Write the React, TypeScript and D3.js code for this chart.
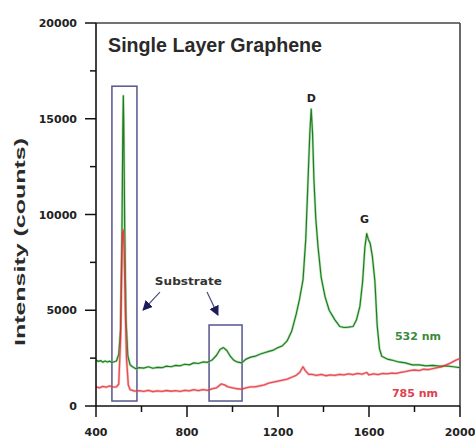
import React from "react";
import * as d3 from "d3";

// ---- Data ----
const greenX = [400,410,420,430,440,450,460,470,480,490,500,508,514,518,520,522,526,532,540,550,560,575,590,610,630,650,670,690,710,730,750,770,790,810,830,850,870,890,910,930,945,960,975,990,1005,1020,1040,1060,1080,1100,1120,1140,1160,1180,1200,1220,1240,1260,1280,1295,1310,1322,1332,1340,1346,1352,1358,1366,1376,1390,1407,1425,1450,1472,1490,1510,1530,1545,1560,1572,1582,1590,1597,1605,1615,1626,1636,1646,1656,1680,1700,1730,1760,1790,1820,1850,1880,1910,1940,1970,2000];
const greenY = [2400,2330,2370,2290,2350,2300,2340,2270,2310,2350,2700,4000,9000,14500,16200,14800,9500,4500,2600,2150,2050,1950,2000,1980,2050,1970,2020,2000,2080,2050,2120,2100,2180,2150,2250,2220,2300,2280,2400,2650,2950,3050,2900,2600,2400,2300,2250,2450,2550,2600,2700,2780,2850,2920,3050,3150,3400,3900,4800,5600,6600,8700,11800,14300,15500,14200,11800,9800,8300,6700,5700,5000,4500,4150,4100,4120,4150,4500,5200,6500,8300,9000,8700,8500,7800,6500,4200,3000,2600,2450,2400,2300,2250,2150,2150,2100,2120,2080,2100,2050,2000];

const redX = [400,415,430,445,460,475,490,500,508,512,516,520,524,528,534,542,550,570,590,610,630,650,670,690,710,730,750,770,790,810,830,850,870,890,910,930,950,965,980,1000,1020,1040,1060,1080,1100,1120,1140,1160,1180,1200,1220,1240,1260,1280,1295,1310,1320,1335,1350,1370,1390,1410,1430,1450,1470,1490,1510,1530,1550,1570,1590,1600,1620,1640,1660,1680,1700,1720,1740,1760,1780,1800,1820,1840,1860,1880,1900,1920,1940,1960,1980,2000];
const redY = [1000,950,1020,980,1050,990,1000,1150,3500,6500,9000,9200,8000,5500,2500,1100,850,780,800,760,820,750,790,760,810,770,800,760,820,790,850,800,860,820,900,950,1150,1100,1000,950,900,880,950,1000,1000,1050,1100,1200,1250,1300,1350,1400,1500,1600,1750,2050,1850,1650,1650,1600,1650,1580,1620,1600,1650,1620,1680,1640,1700,1660,1750,1620,1680,1640,1700,1680,1720,1700,1760,1800,1850,1880,1850,1920,1900,1950,2000,2050,2150,2250,2380,2480];

const xTicks = [400, 800, 1200, 1600, 2000];
const xMinorTicks = [600, 1000, 1400, 1800];
const yTicks = [0, 5000, 10000, 15000, 20000];
const yMinorTicks = [2500, 7500, 12500, 17500];

// annotation boxes: [x0, x1, y0, y1] in data units
const boxes = [
  [470, 580, 260, 16700],
  [897, 1042, 260, 4230],
];
// arrows: [xStart, yStart, xTip, yTip]
const arrows = [
  [681, 5950, 607, 5010],
  [888, 5950, 936, 4750],
];

const W = 475, H = 439;
const x = d3.scaleLinear().domain([400, 2000]).range([96, 460]);
const y = d3.scaleLinear().domain([0, 20000]).range([406, 23]);

const TICK_FONT = "'DejaVu Sans', Verdana, sans-serif";
const ARIAL = "'Liberation Sans', Arial, sans-serif";

export default function App() {
  const line = d3
    .line<[number, number]>()
    .x((d) => x(d[0]))
    .y((d) => y(d[1]));
  const green = line(greenX.map((v, i) => [v, greenY[i]] as [number, number])) || "";
  const red = line(redX.map((v, i) => [v, redY[i]] as [number, number])) || "";
  const [x0, x1] = x.range();
  const [yb, yt] = y.range();

  return (
    <svg
      width={W}
      height={H}
      style={{ position: "absolute", left: 0, top: 0, background: "#fff" }}
    >
      <defs>
        <marker id="arrowhead" viewBox="0 0 10 10" refX="9" refY="5" markerWidth="10" markerHeight="10" orient="auto" markerUnits="userSpaceOnUse">
          <path d="M0,0 L10,5 L0,10 z" fill="#1c1c5a" />
        </marker>
      </defs>

      {/* frame top & right */}
      <line x1={x0} x2={x1} y1={yt} y2={yt} stroke="#444" strokeWidth={1.6} />
      <line x1={x1} x2={x1} y1={yt} y2={yb} stroke="#444" strokeWidth={1.6} />

      {/* boxes */}
      {boxes.map((b, i) => (
        <rect
          key={i}
          x={x(b[0])}
          y={y(b[3])}
          width={x(b[1]) - x(b[0])}
          height={y(b[2]) - y(b[3])}
          fill="none"
          stroke="#55558f"
          strokeWidth={1.5}
        />
      ))}

      {/* series */}
      <path d={green} fill="none" stroke="#7fd07f" strokeWidth={2.6} strokeOpacity={0.55} strokeLinejoin="round" />
      <path d={green} fill="none" stroke="#237a23" strokeWidth={1.2} strokeLinejoin="round" />
      <path d={red} fill="none" stroke="#f07070" strokeWidth={2.6} strokeOpacity={0.45} strokeLinejoin="round" />
      <path d={red} fill="none" stroke="#e01c28" strokeWidth={1.3} strokeOpacity={0.7} strokeLinejoin="round" />

      {/* axes */}
      <line x1={x0} x2={x0} y1={yt} y2={yb} stroke="#111" strokeWidth={1.6} />
      <line x1={x0} x2={x1} y1={yb} y2={yb} stroke="#111" strokeWidth={1.6} />
      {yTicks.map((t) => (
        <g key={"y" + t}>
          <line x1={x0 - 11} x2={x0} y1={y(t)} y2={y(t)} stroke="#111" strokeWidth={1.5} />
          <text x={x0 - 19} y={y(t) + 4} textAnchor="end" fontFamily={TICK_FONT} fontWeight="bold" fontSize={11} fill="#222">
            {t}
          </text>
        </g>
      ))}
      {yMinorTicks.map((t) => (
        <line key={"ym" + t} x1={x0 - 6} x2={x0} y1={y(t)} y2={y(t)} stroke="#111" strokeWidth={1.5} />
      ))}
      {xTicks.map((t) => (
        <g key={"x" + t}>
          <line x1={x(t)} x2={x(t)} y1={yb} y2={yb + 11} stroke="#111" strokeWidth={1.5} />
          <text x={x(t)} y={yb + 30} textAnchor="middle" fontFamily={TICK_FONT} fontWeight="bold" fontSize={11} fill="#222">
            {t}
          </text>
        </g>
      ))}
      {xMinorTicks.map((t) => (
        <line key={"xm" + t} x1={x(t)} x2={x(t)} y1={yb} y2={yb + 6} stroke="#111" strokeWidth={1.5} />
      ))}

      {/* axis title */}
      <text
        transform="translate(25,242) rotate(-90)"
        textAnchor="middle"
        fontFamily={ARIAL}
        fontWeight="bold"
        fontSize={15}
        fill="#2a2a2a"
        textLength={208}
        lengthAdjust="spacingAndGlyphs"
      >
        Intensity (counts)
      </text>

      {/* title */}
      <text x={x(453)} y={y(18480)} fontFamily={ARIAL} fontWeight="bold" fontSize={20} fill="#2a2a2a" textLength={214} lengthAdjust="spacingAndGlyphs">
        Single Layer Graphene
      </text>

      {/* peak labels */}
      <text x={x(1346)} y={y(15870)} textAnchor="middle" fontFamily={TICK_FONT} fontWeight="bold" fontSize={11} fill="#222">D</text>
      <text x={x(1580)} y={y(9555)} textAnchor="middle" fontFamily={TICK_FONT} fontWeight="bold" fontSize={11} fill="#222">G</text>

      {/* substrate annotation */}
      <text x={x(806)} y={y(6320)} textAnchor="middle" fontFamily={TICK_FONT} fontWeight="bold" fontSize={11} fill="#333" textLength={67} lengthAdjust="spacingAndGlyphs">
        Substrate
      </text>
      {arrows.map((a, i) => (
        <line
          key={"a" + i}
          x1={x(a[0])}
          y1={y(a[1])}
          x2={x(a[2])}
          y2={y(a[3])}
          stroke="#4a4a7a"
          strokeWidth={1.2}
          markerEnd="url(#arrowhead)"
        />
      ))}

      {/* series labels */}
      <text x={x(1714)} y={y(3450)} fontFamily={TICK_FONT} fontWeight="bold" fontSize={11} fill="#3a8a3a">532 nm</text>
      <text x={x(1701)} y={y(470)} fontFamily={TICK_FONT} fontWeight="bold" fontSize={11} fill="#e0404e">785 nm</text>
    </svg>
  );
}
